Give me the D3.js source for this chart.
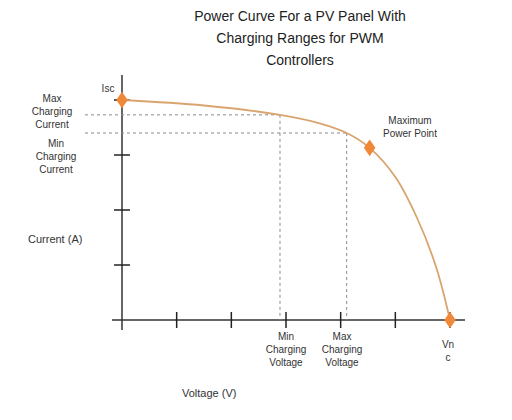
<!DOCTYPE html>
<html><head><meta charset="utf-8">
<script src="https://cdn.jsdelivr.net/npm/d3@7"></script>
<style>body{margin:0;background:#fff;font-family:"Liberation Sans",Arial,sans-serif}</style>
</head><body>
<svg id="c" width="512" height="420"></svg>
<script>
const titleLines = ['Power Curve For a PV Panel With', 'Charging Ranges for PWM', 'Controllers'];
const curve = [[0, 4], [1.5, 3.9], [2.89, 3.73], [3.6, 3.58], [4.11, 3.4], [4.53, 3.13], [5.0, 2.6], [5.4, 1.85], [5.75, 0.95], [6, 0]];
const xTicks = [1, 2, 3, 4, 5, 6];
const yTicks = [1, 2, 3, 4];
const minV = 2.89, maxV = 4.11, minI = 3.4, maxI = 3.73;
const markers = [[0, 4], [4.53, 3.13], [6, 0]];

const svg = d3.select('#c');
const x = d3.scaleLinear().domain([0, 6]).range([122, 450]);
const y = d3.scaleLinear().domain([0, 4]).range([320, 100]);

svg.selectAll('text.title').data(titleLines).join('text')
  .attr('x', 300).attr('y', (d, i) => 21 + i * 22)
  .attr('text-anchor', 'middle').attr('font-size', 14).attr('fill', '#222').text(d => d);

// axes
svg.append('line').attr('x1', 112).attr('x2', 465).attr('y1', y(0)).attr('y2', y(0)).attr('stroke', '#333').attr('stroke-width', 1.5);
svg.append('line').attr('x1', x(0)).attr('x2', x(0)).attr('y1', 75).attr('y2', 330).attr('stroke', '#333').attr('stroke-width', 1.5);
svg.selectAll('line.xt').data(xTicks).join('line')
  .attr('x1', d => x(d)).attr('x2', d => x(d)).attr('y1', y(0) - 8).attr('y2', y(0) + 8).attr('stroke', '#222').attr('stroke-width', 1.5);
svg.selectAll('line.yt').data(yTicks).join('line')
  .attr('x1', x(0) - 8).attr('x2', x(0) + 8).attr('y1', d => y(d)).attr('y2', d => y(d)).attr('stroke', '#222').attr('stroke-width', 1.5);

// dashed guides
function guide(x1, y1, x2, y2) {
  svg.append('line').attr('x1', x1).attr('y1', y1).attr('x2', x2).attr('y2', y2)
    .attr('stroke', '#8a8a8a').attr('stroke-dasharray', '3,3').attr('stroke-width', 1);
}
guide(85, y(maxI), x(minV), y(maxI));
guide(85, y(minI), x(maxV), y(minI));
guide(x(minV), y(maxI), x(minV), y(0));
guide(x(maxV), y(minI), x(maxV), y(0));

svg.append('path').datum(curve)
  .attr('d', d3.line().x(d => x(d[0])).y(d => y(d[1])).curve(d3.curveCatmullRom))
  .attr('fill', 'none').attr('stroke', '#d9a46e').attr('stroke-width', 1.8);

svg.selectAll('path.m').data(markers).join('path')
  .attr('d', d3.symbol(d3.symbolDiamond, 80))
  .attr('transform', d => `translate(${x(d[0])},${y(d[1])}) scale(1.2,1)`)
  .attr('fill', '#f0883a');

function label(lines, cx, cy, anchor = 'middle', size = 10) {
  svg.append('text').attr('text-anchor', anchor).attr('font-size', size).attr('fill', '#333')
    .selectAll('tspan').data(lines).join('tspan')
    .attr('x', cx).attr('y', (d, i) => cy + i * 13).text(d => d);
}
label(['Isc'], 108, 92);
label(['Max', 'Charging', 'Current'], 52, 102);
label(['Min', 'Charging', 'Current'], 56, 147);
label(['Maximum', 'Power Point'], 410, 124);
label(['Current (A)'], 28, 243, 'start', 11);
label(['Min', 'Charging', 'Voltage'], 286, 340);
label(['Max', 'Charging', 'Voltage'], 342, 340);
label(['Vn', 'c'], 448, 348);
label(['Voltage (V)'], 182, 397, 'start', 11);
</script>
</body></html>
